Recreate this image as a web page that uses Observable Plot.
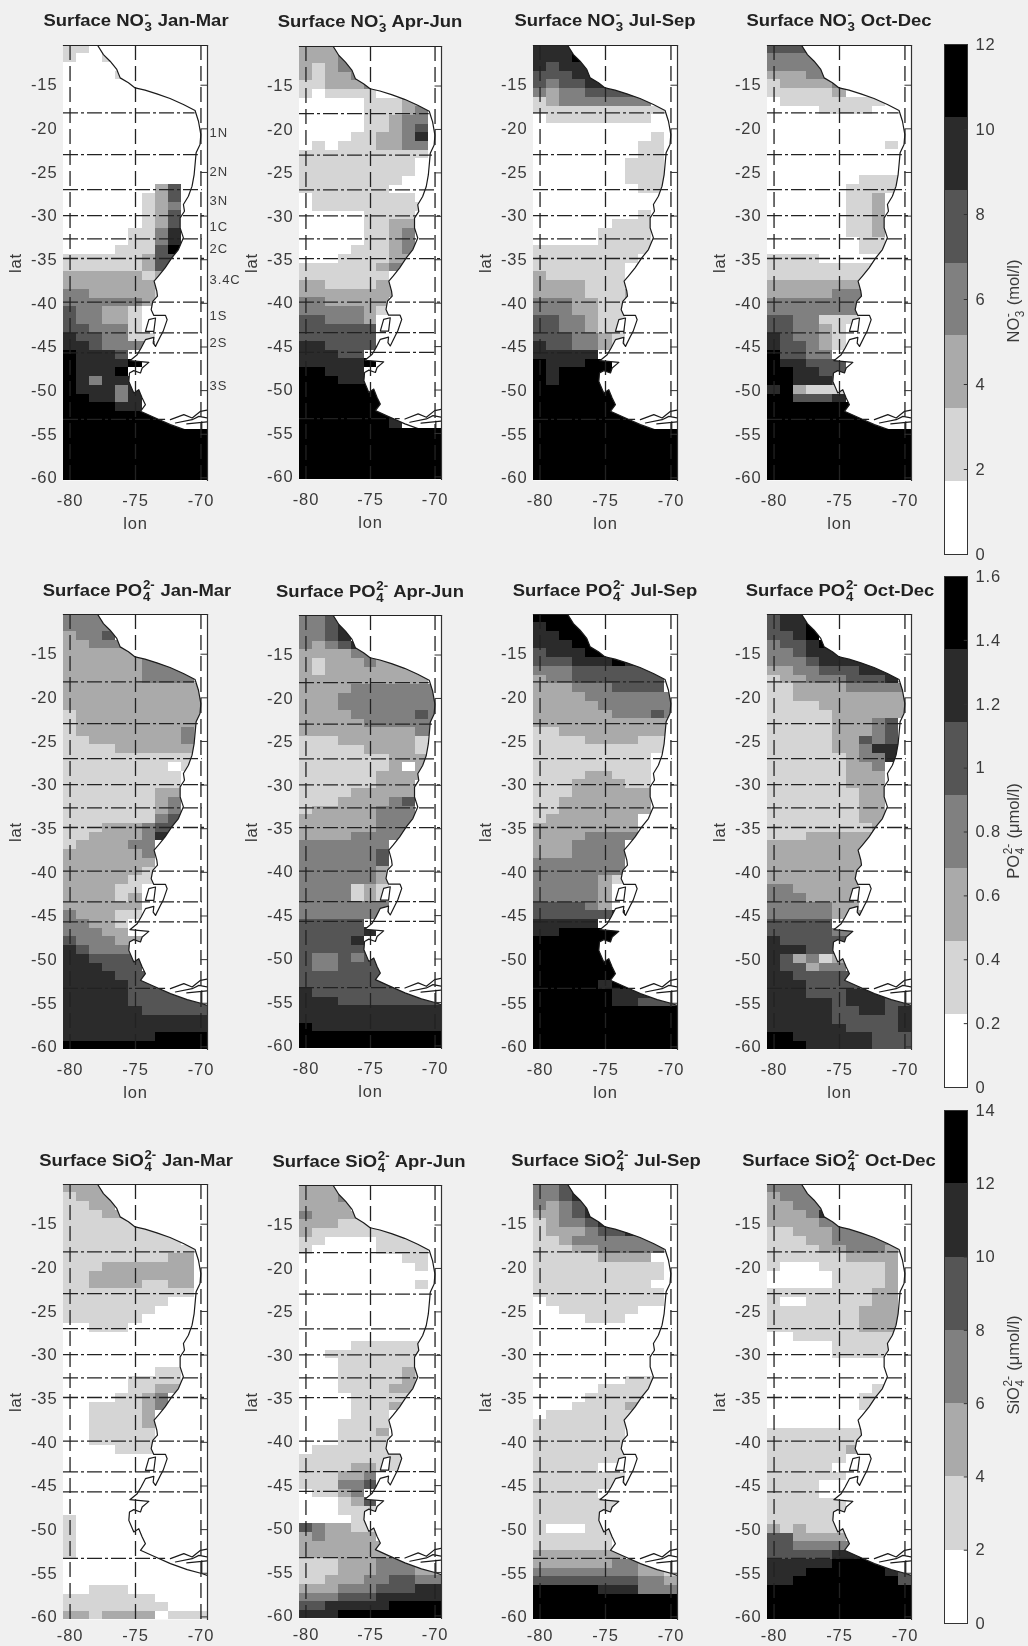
<!DOCTYPE html>
<html><head><meta charset="utf-8">
<script src="https://cdn.jsdelivr.net/npm/d3@7"></script>
<script src="https://cdn.jsdelivr.net/npm/@observablehq/plot@0.6"></script>
<style>
html,body{margin:0;padding:0;background:#f0f0f0;}
#fig{position:relative;width:1028px;height:1646px;overflow:hidden;background:#f0f0f0;font-family:"Liberation Sans",Arial,sans-serif;color:#2a2a2a;filter:blur(0.5px);}
#fig svg{position:absolute;overflow:visible;}
.t{position:absolute;white-space:nowrap;transform:translate(-50%,-50%) scaleX(1.1);font-weight:bold;font-size:16.8px;color:#222;line-height:1;}
.c{position:absolute;white-space:nowrap;transform:translate(-50%,-50%) rotate(-90deg);font-size:16.5px;color:#3a3a3a;line-height:1;}
.s{display:inline-flex;flex-direction:column;vertical-align:middle;align-items:flex-start;font-size:.72em;line-height:.98;margin:0 .05em;}
</style></head><body><div id="fig"></div>
<script>
const Z="00000000000", B="66666666666";
const no3JanMar=["11000000000","10010000000",Z,"00001000000",Z,Z,Z,Z,Z,Z,Z,Z,Z,Z,Z,Z,
"00000002400","00000012400","00000012300","00000012400","00000012400","00000113500","00000113500","00001114600","11111124400","11111124000","22222212000","22222222000","33222221000","33333321000","43322100000","43322100000","44333100000","54433110000","55433330000","65554000000","65555600000","65556000000","65355500000","65553500000","66553500000","66665500000",B,B,B,B,B,B,B,B];
const no3AprJun=["22200000000","22230000000","21233000000","21223300000","11222300000","10111100000","00000111220","00000111230","00000112330","00000112340","00001122350","01011122330","11111111110","11111111100","11111111100","11111111000","11111110000","01111111100","01111111110","00000111100","00000112200","00000112300","00000112300","00001112300","00011112200","11111123000","11111110000","22111122000","22222222000","33222220000","33333210000","44333200000","44444400000","44444400000","55444400000","55544040000","55555600000","66555000000","66655500000",B,B,B,B,"66666665000",B,B,B,B,B,B];
const no3JulSep=["55500000000","55560000000","54555000000","44455600000","43445500000","32334444400","12333333300","11111111110","01111111100",Z,"00000000010","00000000110","00000000110","00000001110","00000001110","00000001110","00000000110",Z,Z,"00000000100","00000011100","00000111100","00000111100","11111111100","11111111000","11111110000","21111110000","22221110000","22221112000","33322110000","33322110000","44332110000","44332110000","44433210000","54433210000","55555000000","65556600000","65666600000","65666600000",B,B,B,B,B,B,B,B,B,B,B];
const no3OctDec=["44400000000","33330000000","33333000000","22233300000","12222300000","11111200000","01111111100","00001111000",Z,Z,Z,"00000000010",Z,Z,Z,"00000001110","00000011110","00000011200","00000011200","00000011200","00000011200","00000011200","00000001100","00000001100","11110000000","11111111000","11111111000","22222222000","22222333000","33333333000","33333333000","44331110000","44332100000","54332100000","54432100000","64433000000","65544400000","66554400000","66555400000","56211100000","66444500000",B,B,B,B,B,B,B,B,B];
const po4JanMar=["33300000000","33330000000","23340000000","22333300000","22222200000","22222233000","22222233330","22222233330","22222222222","22222222222","22222222222","12222222222","12222222222","12222222232","11222222232","11112222220","11111111110","11111111010","11111111100","11111111100","11111112200","11111112300","11111112300","11111113400","11122234400","11222235000","12222330000","22222230000","22222220000","22222210000","22222110000","22221100000","22221200000","22222200000","32221100000","33221000000","33322000000","43332200000","54333300000","55444400000","55544400000","55554440000","55555444000","55555444400","55555444444","55555544444","55555555555","55555555555","55555556666","66666666666"];
const po4AprJun=["33400000000","33450000000","33450000000","32345000000","22223300000","21222322200","21222222220","22222222220","22223333333","22233333333","22233333333","22223333343","22222333333","22222222233","11122222210","11111222210","11111112220","11111112020","11111122220","11111122200","11112222200","11122223400","12222233300","22222233300","22222233300","22223333000","33333330000","33333340000","33333340000","33333320000","33333320000","33331210000","33331210000","33333330000","33333330000","44444000000","44444500000","44445000000","44444400000","43343440000","43344440000","44444444000","44444444400","54444444444","55544444444","55555555555","55555555555","65555555555",B,B];
const po4JulSep=["66600000000","56660000000","55666000000","55566600000","45556600000","44455565000","33344444440","23344444440","22233344440","22223333333","22222333333","22222233343","22222222222","11222222222","11112222110","11111111110","11111111100","11111111100","11112211100","11122221100","11122222200","11222222200","11222222200","12222222000","22222222000","22223333000","22233330000","22233330000","33333330000","33333330000","33333210000","33333200000","33333200000","44443200000","44444450000","55555000000","55666666000","66666666000",B,B,B,B,"66666566666","66666655544","66666655444",B,B,B,B,B];
const po4OctDec=["45500000000","45560000000","44560000000","34456000000","33455500000","33345555000","22334445550","12233344450","11222233333","11222222222","11112222222","11111222222","11111222340","11111222340","11111224340","11111223550","11111123350","11111122300","11111122200","11111122200","11111112200","11111112200","11111112200","11111112200","11111111200","11122222000","22222222000","22222222000","22222222000","22222222000","22222220000","33222220000","33322220000","33333220000","33333222000","44444030000","44444330000","54444400000","55544400000","54231200000","54423300000","55444440000","55544444400","55544455500","55555455544","55555445545","55555444445","55555544445","66555555444","66655555444"];
const siJanMar=["22200000000","12220000000","11220000000","11122200000","11111100000","11111111000","11111111100","11111111110","11111111220","11122222220","11222222220","11222211220","11111111110","11111111000","11111110000","11111100000","00111000000",Z,Z,Z,Z,"00000001100","00000111100","00000112200","00001123000","00111123000","00111120000","00111120000","00111110000","00111110000","00001110000",Z,Z,Z,Z,Z,Z,Z,"10000000000","10000000000","10000000000","10000000000","10000000000",Z,Z,Z,"00111000000","11111110000","11111111000","22122220111"];
const siAprJun=["22200000000","22230000000","22220000000","32222200000","22211100000","21111111000","11000011110","10000011110","00000000110","00000000010",Z,"00000000010",Z,Z,Z,Z,Z,Z,"00001111110","00111111110","00011111110","00011111210","00011111210","00011112200","00001111100","00001112000","00001110000","00011111000","00011120000","00011111000","01111111000","11111111000","11112211000","11122300000","11133400000","01123000000","00012400000","00011100000","00001110000","43221100000","23222200000","22222220000","22222220000","11122233300","11122233322","11222334433","22233344455","33344455555","44555556666","55566666666"];
const siJulSep=["33400000000","33450000000","32345000000","22345000000","12334550000","12223445000","11233333330","11122333330","11111222200","11111111110","11111111110","11111111100","11111111110","01111111110","00111111000","00001110000",Z,Z,Z,Z,Z,Z,"00000001110","00000111100","00001111100","00011112000","01111111000","11111110000","11111110000","11111110000","11111110000","11111110000","11111000000","11111110000","11111110000","11111010000","11111110000","11111110000","11111110000","10001110000","11111100000","11111100000","22222220000","22222233220","33333333221","44444444332","66666555333",B,B,B];
const siOctDec=["33300000000","23330000000","22333000000","22235000000","22223300000","11222333300","11122333330","11112233320","11111122220","10001111120","00000111120","00000111120","11111111220","10011111220","11111112220","11111112220","11111112220","00111111110","00000111110","00000111110",Z,Z,Z,"00000000100","00000001100","00000001000",Z,Z,"11111111000","11111111000","11111120000","11111100000","11111000000","11111100000","11110000000","11110000000","11111100000","11111100000","11111100000","21211100000","44222200000","44333330000","44444556666","55555666666","55566666654","55666666664",B,B,B,B];

const lons=[-80,-79,-78,-77,-76,-75,-74,-73,-72,-71,-70];
const rowTopLat=-10.4;
const grays=["#ffffff","#d5d5d5","#aaaaaa","#808080","#555555","#2b2b2b","#000000"];
const levels=[0,1,2,3,4,5,6];
const lonTicks=[-80,-75,-70];
const latTicks=[-15,-20,-25,-30,-35,-40,-45,-50,-55,-60];
const zoneLats=[-18.17,-22.95,-26.96,-29.94,-32.6,-34.86,-39.87,-43.38,-45.67,-53.3];
const zoneEnds=[-70.45,-70.2,-69.9,-69.5,-69.9,-69.5,-69.5,-69.9,-69.9,-72.7];
const zoneNames=["1N","2N","3N","1C","2C","3.4C","1S","2S","3S"];
const zoneNameLats=[-20.5,-24.9,-28.3,-31.2,-33.8,-37.3,-41.4,-44.5,-49.5];
const coastLon=[-77.9,-77.45,-76.94,-76.43,-76.17,-75.54,-75.03,-74.27,-73.37,-72.36,-71.34,-70.45,-70.19,-70.01,-70.07,-70.37,-70.45,-70.52,-70.68,-70.96,-71.34,-71.26,-71.59,-71.59,-71.34,-71.72,-72.23,-72.74,-73.25,-73.58,-73.37,-73.32,-73.68,-73.8,-73.6,-72.71,-72.58,-72.89,-73.09,-73.47,-73.65,-73.6,-74.24,-74.57,-74.87,-75.43,-73.98,-74.49,-74.62,-75.13,-75.46,-75.51,-75.13,-74.75,-74.49,-74.24,-74.62,-73.6,-72.33,-71.05,-69.94,-69.51];
const coastLat=[-10.42,-11.49,-12.25,-13.2,-14.16,-14.73,-15.31,-15.57,-15.99,-16.53,-17.22,-17.9,-19.13,-20.65,-21.8,-22.75,-24.09,-25.24,-26.57,-27.72,-28.67,-29.44,-30.2,-31.35,-32.49,-33.83,-34.79,-35.93,-36.89,-37.46,-38.61,-39.18,-39.77,-40.73,-41.38,-41.38,-41.87,-43.21,-43.78,-44.93,-44.55,-43.9,-44.16,-45.12,-45.88,-46.57,-46.76,-47.41,-47.98,-47.71,-47.98,-48.94,-50.27,-49.89,-50.85,-51.61,-52.37,-53.06,-53.9,-54.59,-55.03,-55.26];
const islandLon=[-73.98,-73.47,-73.6,-74.24,-73.98];
const islandLat=[-41.87,-41.68,-43.21,-43.21,-41.87];
const fjordLon=[[-72.33,-71.31,-70.67,-70.03,-69.51],[-71.95,-70.67,-70.16,-69.51],[-71.08,-69.51],[-69.94,-69.94]];
const fjordLat=[[-53.33,-52.75,-53.14,-52.37,-52.22],[-53.71,-53.33,-52.95,-53.14],[-53.81,-53.58],[-53.58,-55.03]];

const xDomain=[-80.5,-69.5], yDomain=[-60.3,-10.45];
const fmt=d=>String(d);
const coast=coastLon.map((x,i)=>({x,y:coastLat[i]}));
const landShape=[...coast,{x:-69,y:-55.26},{x:-69,y:-10},{x:-77.9,y:-10}];
const island=islandLon.map((x,i)=>({x,y:islandLat[i]}));
const fjords=fjordLon.flatMap((a,k)=>a.map((x,i)=>({x,y:fjordLat[k][i],k})));
const zones=zoneLats.map((y,i)=>({y,x2:zoneEnds[i]}));
const zoneLabels=zoneNames.map((t,i)=>({t,y:zoneNameLats[i]}));
const textStyle={background:"transparent",fontFamily:"Liberation Sans",fontSize:"16.5px",color:"#3a3a3a",letterSpacing:"0.9px"};

function cells(rows){
  if(rows.length!==50) throw new Error("rows "+rows.length);
  return rows.flatMap((s,i)=>lons.map((lon,j)=>({lon,level:+s[j],row:i,y1:rowTopLat-i,y2:rowTopLat-i-1})));
}
const fig=document.getElementById("fig");
function panel(rows,box,opts){
  const ml=50,mt=5,mr=32,mb=opts.lonLabel?52:24;
  const data=cells(rows);
  const rect=d=>Plot.rect(d,{x1:c=>c.lon-0.5,x2:c=>c.lon+0.5,y1:"y1",y2:"y2",fill:"level",shapeRendering:"crispEdges",clip:true});
  const marks=[
    Plot.frame({fill:"white",stroke:"none"}),
    rect(data),
    Plot.line(landShape,{x:"x",y:"y",fill:"white",stroke:"none",clip:true}),
    Plot.line(coast,{x:"x",y:"y",stroke:"#1a1a1a",strokeWidth:1.2,clip:true}),
    Plot.line(island,{x:"x",y:"y",fill:"white",stroke:"#1a1a1a",strokeWidth:1.2,clip:true}),
    Plot.line(fjords,{x:"x",y:"y",z:"k",stroke:"#1a1a1a",strokeWidth:1.2,clip:true})
  ];
  if(opts.flatSouth) marks.push(rect(data.filter(c=>c.row>=44)));
  marks.push(
    Plot.ruleX(lonTicks,{stroke:"#222",strokeWidth:1.3,strokeDasharray:"15,6"}),
    Plot.ruleY(zones,{y:"y",x1:xDomain[0],x2:"x2",stroke:"#222",strokeWidth:1.3,strokeDasharray:"15,3,3,3"}),
    Plot.ruleY(latTicks,{x1:-70,x2:xDomain[1],stroke:"#333",strokeWidth:1}),
    Plot.frame({anchor:"top",stroke:"#222",strokeWidth:1.2}),
    Plot.frame({anchor:"right",stroke:"#333",strokeWidth:1.2}),
    Plot.axisX({ticks:lonTicks,tickSize:0,tickPadding:opts.lonLabel?14:10,tickFormat:fmt,label:opts.lonLabel?"lon":null,labelAnchor:"center",labelArrow:"none",labelOffset:48}),
    Plot.axisY({ticks:latTicks,tickSize:0,tickPadding:6,tickFormat:fmt,label:"lat",labelAnchor:"center",labelArrow:"none",labelOffset:54})
  );
  if(opts.zoneNames) marks.push(Plot.text(zoneLabels,{x:xDomain[1],y:"y",text:"t",dx:2,textAnchor:"start",fontSize:13,letterSpacing:"0.2px"}));
  const p=Plot.plot({
    width:box.w+ml+mr,height:box.h+mt+mb,marginLeft:ml,marginRight:mr,marginTop:mt,marginBottom:mb,
    x:{domain:xDomain},y:{domain:yDomain},
    color:{type:"ordinal",domain:levels,range:grays},
    style:textStyle,
    marks
  });
  p.style.left=(box.x-ml)+"px";p.style.top=(box.y-mt)+"px";
  fig.append(p);
}
function colorbar(maxV,ticks,box){
  const ml=2,mr=50,mt=8,mb=10;
  const bands=levels.map(l=>({l,y1:maxV*l/7,y2:maxV*(l+1)/7}));
  const p=Plot.plot({
    width:box.w+ml+mr,height:box.h+mt+mb,marginLeft:ml,marginRight:mr,marginTop:mt,marginBottom:mb,
    x:{domain:[0,1],axis:null},y:{domain:[0,maxV]},
    color:{type:"ordinal",domain:levels,range:grays},
    style:textStyle,
    marks:[
      Plot.rect(bands,{x1:0,x2:1,y1:"y1",y2:"y2",fill:"l",shapeRendering:"crispEdges"}),
      Plot.ruleY(ticks,{x1:0.86,x2:1,stroke:"#333"}),
      Plot.frame({stroke:"#333",strokeWidth:1}),
      Plot.axisY({anchor:"right",ticks,tickSize:0,tickPadding:8,tickFormat:fmt,label:null})
    ]
  });
  p.style.left=(box.x-ml)+"px";p.style.top=(box.y-mt)+"px";
  fig.append(p);
}
function chem(a,sup,sub,b){
  return `${a}<span class="s"><span>${sup}</span><span>${sub}</span></span>${b}`;
}
function label(cls,html,x,y){
  const d=document.createElement("div");d.className=cls;d.innerHTML=html;d.style.left=x+"px";d.style.top=y+"px";fig.append(d);
}
const seasons=["Jan-Mar","Apr-Jun","Jul-Sep","Oct-Dec"];
const panelX=[63,299,533,767], panelW=[144,142,144,144];
const rowsY=[45,614,1184];
const species=[
 {n:"NO",sup:"-",sub:"3",sets:[no3JanMar,no3AprJun,no3JulSep,no3OctDec],cx:[136,370,604.5,839],ty:[22,23,22,22]},
 {n:"PO",sup:"2-",sub:"4",sets:[po4JanMar,po4AprJun,po4JulSep,po4OctDec],cx:[136.5,370,605,840],ty:[592,593,592,592]},
 {n:"SiO",sup:"2-",sub:"4",sets:[siJanMar,siAprJun,siJulSep,siOctDec],cx:[135.5,369,605.5,838.7],ty:[1162,1163,1162,1162]}
];
species.forEach((sp,r)=>{
  sp.sets.forEach((rows,c)=>{
    const inset=c===1?1:0;
    panel(rows,{x:panelX[c],y:rowsY[r]+inset,w:panelW[c],h:435-2*inset},{lonLabel:r<2,zoneNames:r===0&&c===0,flatSouth:r===0});
    label("t",chem("Surface "+sp.n,sp.sup,sp.sub," "+seasons[c]),sp.cx[c],sp.ty[c]);
  });
});
colorbar(12,[0,2,4,6,8,10,12],{x:944,y:44,w:23,h:510});
colorbar(1.6,[0,0.2,0.4,0.6,0.8,1,1.2,1.4,1.6],{x:944,y:576,w:23,h:511});
colorbar(14,[0,2,4,6,8,10,12,14],{x:944,y:1110,w:23,h:513});
label("c",chem("NO","-","3"," (mol/l)"),1015,301);
label("c",chem("PO","2-","4"," (&mu;mol/l)"),1015,831);
label("c",chem("SiO","2-","4"," (&mu;mol/l)"),1015,1365);
</script></body></html>
